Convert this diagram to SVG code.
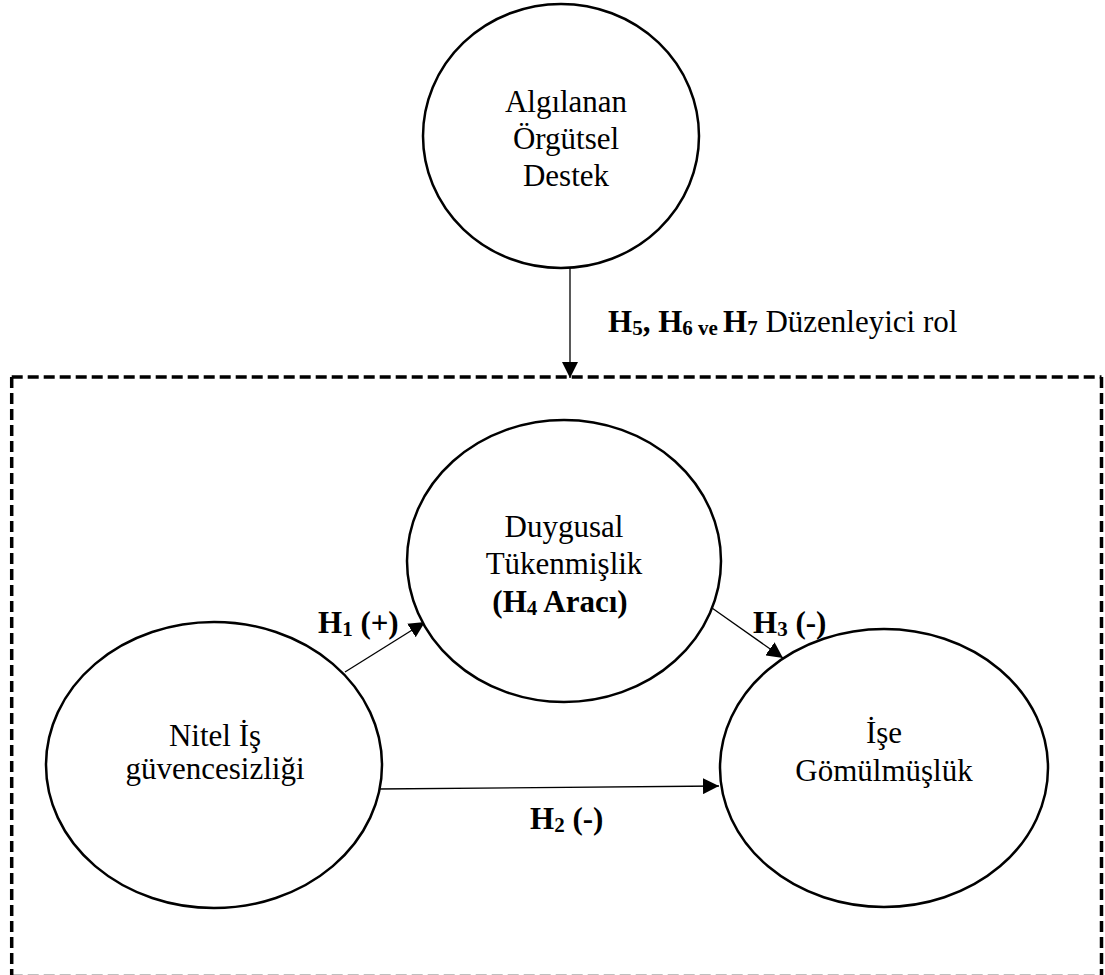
<svg xmlns="http://www.w3.org/2000/svg" width="1105" height="975" viewBox="0 0 1105 975">
<style>
.node{fill:#fff;stroke:#000;stroke-width:2.5}
.t{font-family:'Liberation Serif','Times New Roman',Tinos,'DejaVu Serif',serif;font-size:31px;fill:#000}
.c{text-anchor:middle}
.b{font-weight:bold}
.s{font-size:21px}
.con{stroke:#000;stroke-width:1.3;fill:none;marker-end:url(#ah)}
.dash{stroke:#000;stroke-width:3.5;stroke-dasharray:11 5;fill:none}
</style>
<defs>
<marker id="ah" markerUnits="userSpaceOnUse" markerWidth="16" markerHeight="16" refX="16" refY="8" orient="auto" viewBox="0 0 16 16">
<path d="M0,0 L16,8 L0,16 z" fill="#000"/>
</marker>
</defs>
<rect width="1105" height="975" fill="#fff"/>
<g id="moderation-box">
<line class="dash" x1="11.7" y1="377" x2="1101.5" y2="377"/>
<line class="dash" x1="11.7" y1="377" x2="11.7" y2="977"/>
<line class="dash" x1="1101.5" y1="377" x2="1101.5" y2="977"/>
<line class="dash" x1="11.7" y1="976.5" x2="1101.5" y2="976.5"/>
</g>
<g id="connectors">
<line class="con" x1="570" y1="268" x2="570" y2="378"/>
<line class="con" x1="345" y1="672" x2="425" y2="622"/>
<line class="con" x1="712" y1="608" x2="783" y2="658"/>
<line class="con" x1="378" y1="789" x2="719" y2="786"/>
<text class="t" x="608" y="332"><tspan class="b">H</tspan><tspan class="b s" dy="3">5</tspan><tspan class="b" dy="-3">, H</tspan><tspan class="b s" dy="3">6 ve </tspan><tspan class="b" dy="-3">H</tspan><tspan class="b s" dy="3">7</tspan><tspan dy="-3"> Düzenleyici rol</tspan></text>
<text class="t b" x="318" y="633">H<tspan class="s" dy="3">1</tspan><tspan dy="-3"> (+)</tspan></text>
<text class="t b" x="753" y="633">H<tspan class="s" dy="3">3</tspan><tspan dy="-3"> (-)</tspan></text>
<text class="t b" x="530" y="829">H<tspan class="s" dy="3">2</tspan><tspan dy="-3"> (-)</tspan></text>
</g>
<g id="node-algilanan">
<ellipse class="node" cx="561" cy="136" rx="138" ry="132"/>
<text class="t c" x="566" y="112">Algılanan</text>
<text class="t c" x="566" y="149">Örgütsel</text>
<text class="t c" x="566" y="186">Destek</text>
</g>
<g id="node-duygusal">
<ellipse class="node" cx="564" cy="561" rx="157" ry="141"/>
<text class="t c" x="564" y="537">Duygusal</text>
<text class="t c" x="564" y="574">Tükenmişlik</text>
<text class="t c b" x="560" y="612">(H<tspan class="s" dy="3">4</tspan><tspan dy="-3"> Aracı)</tspan></text>
</g>
<g id="node-nitel">
<ellipse class="node" cx="214" cy="765" rx="168" ry="143"/>
<text class="t c" x="215" y="746">Nitel İş</text>
<text class="t c" x="215" y="779">güvencesizliği</text>
</g>
<g id="node-ise">
<ellipse class="node" cx="884" cy="768" rx="164" ry="139"/>
<text class="t c" x="884" y="743">İşe</text>
<text class="t c" x="884" y="781">Gömülmüşlük</text>
</g>
</svg>
